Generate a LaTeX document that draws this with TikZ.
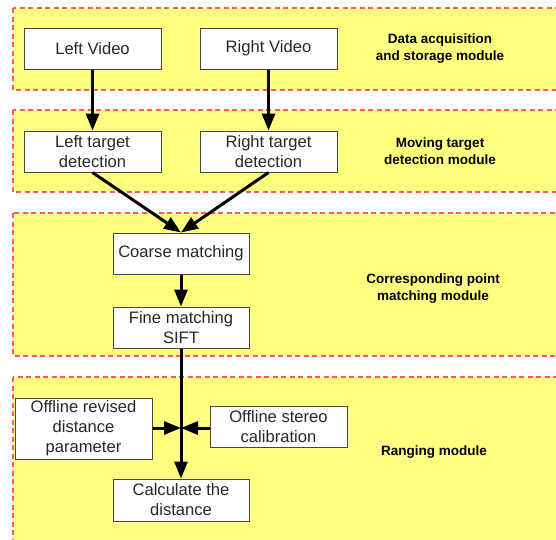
\documentclass[tikz,border=0pt]{standalone}
\usepackage{fontspec}
\setmainfont{Liberation Sans}
\usetikzlibrary{arrows.meta}
\definecolor{bandfill}{RGB}{255,255,128}
\definecolor{banddash}{RGB}{255,90,90}
\definecolor{boxline}{RGB}{70,70,70}
\definecolor{boxtext}{RGB}{40,40,40}
\tikzset{
  band/.style={fill=bandfill, draw=banddash, line width=1.2pt, dash pattern=on 5pt off 3.5pt},
  procbox/.style={draw=boxline, fill=white, line width=1pt, align=center, inner sep=0pt,
    text=boxtext, font=\fontsize{16.6}{20}\selectfont},
  modlabel/.style={align=center, font=\bfseries\fontsize{13.5}{17}\selectfont, text=black},
  arr/.style={line width=3pt, -{Triangle[length=17pt,width=13pt]}}
}
\begin{document}
\begin{tikzpicture}[x=1pt,y=-1pt]
\useasboundingbox (0,0) rectangle (556,539);
\clip (0,0) rectangle (556,539);
% bands
\path[band] (13,8) rectangle (570,90);
\path[band] (13,110) rectangle (570,192);
\path[band] (13,213) rectangle (570,356);
\path[band] (13,377) rectangle (570,560);
% boxes
\node[procbox, minimum width=137pt, minimum height=41pt] (lv) at (92.5,48.5) {Left Video};
\node[procbox, minimum width=137pt, minimum height=41pt] (rv) at (268.5,48.5) {Right Video};
\node[procbox, minimum width=137pt, minimum height=41pt] (lt) at (92.5,151.5) {Left target\\detection};
\node[procbox, minimum width=137pt, minimum height=41pt] (rt) at (268.5,151.5) {Right target\\detection};
\node[procbox, minimum width=136pt, minimum height=41pt] (cm) at (181,253.5) {Coarse matching};
\node[procbox, minimum width=136pt, minimum height=41pt] (fm) at (181,327.5) {Fine matching\\SIFT};
\node[procbox, minimum width=137pt, minimum height=61pt] (ord) at (83.5,428.5) {Offline revised\\distance\\parameter};
\node[procbox, minimum width=137pt, minimum height=41pt] (osc) at (278.5,426.5) {Offline stereo\\calibration};
\node[procbox, minimum width=136pt, minimum height=42pt] (cd) at (181,500) {Calculate the\\distance};
\coordinate (j) at (181,428);
% labels
\node[modlabel] (l1) at (440,48.5) {Data acquisition\\and storage module};
\node[modlabel] (l2) at (440,151.5) {Moving target\\detection module};
\node[modlabel] (l3) at (433,288.5) {Corresponding point\\matching module};
\node[modlabel] (l4) at (434,452) {Ranging module};
% connectors
\draw[arr] (lv.south) -- (lt.north);
\draw[arr] (rv.south) -- (rt.north);
\draw[arr] (lt.south) -- (cm.north);
\draw[arr] (rt.south) -- (cm.north);
\draw[arr] (cm.south) -- (fm.north);
\draw[arr] (fm.south) -- (cd.north);
\draw[arr] (ord.east |- j) -- (j);
\draw[arr] (osc.west |- j) -- (j);
\end{tikzpicture}
\end{document}
